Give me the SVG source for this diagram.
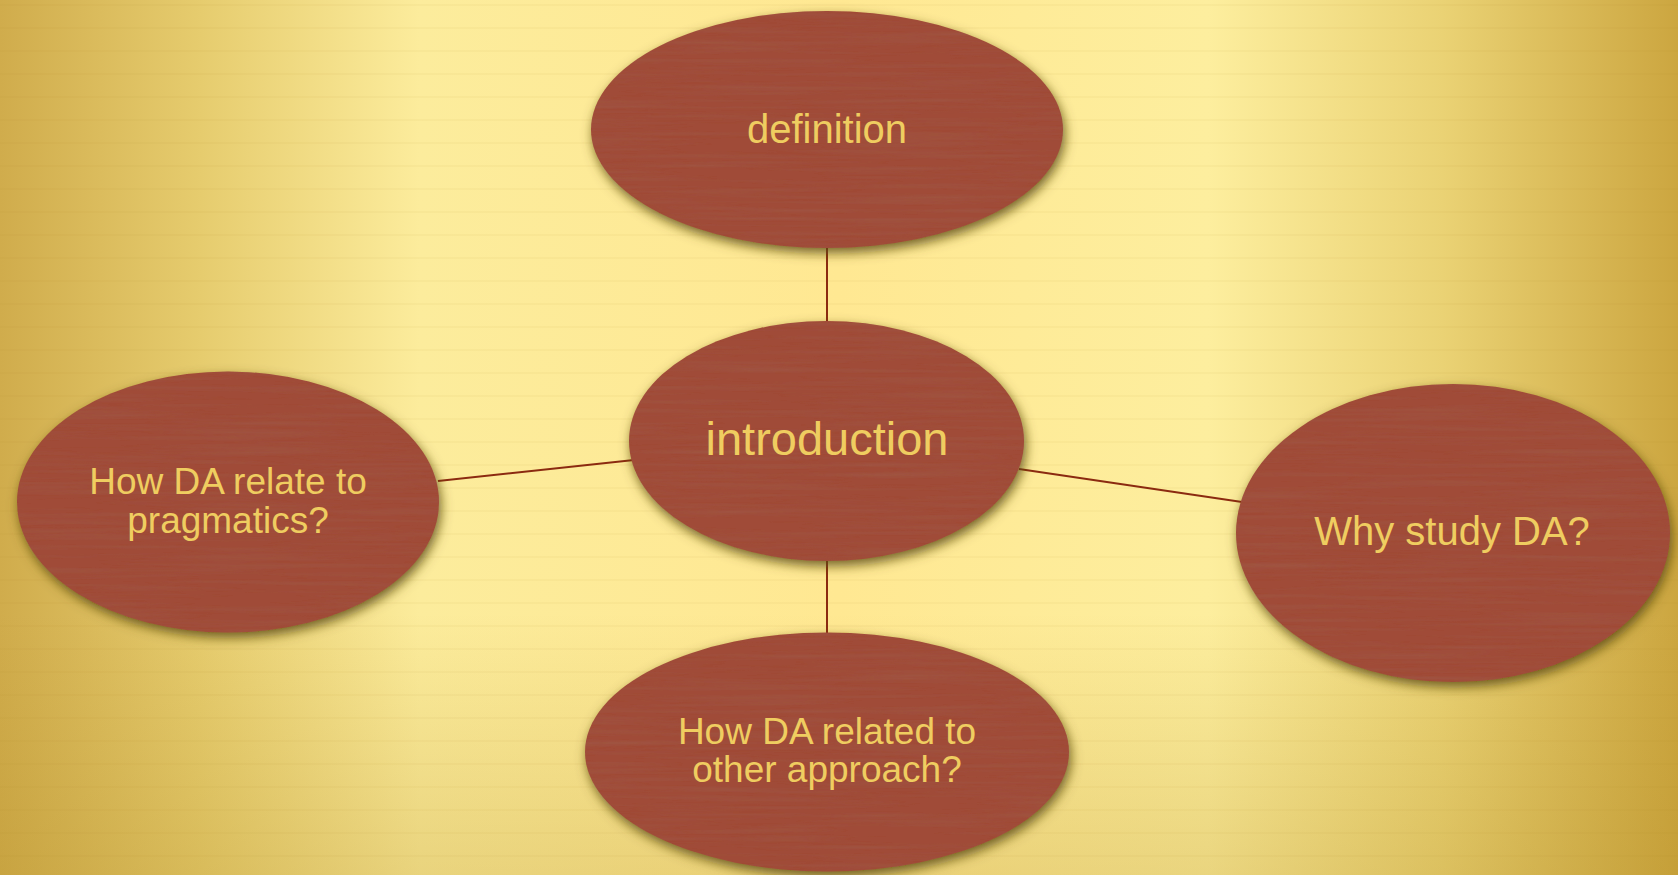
<svg xmlns="http://www.w3.org/2000/svg" width="1678" height="875" viewBox="0 0 1678 875">
<defs>
<linearGradient id="bgH" x1="0" y1="0" x2="1" y2="0">
<stop offset="0" stop-color="#D0AC4C"/>
<stop offset="0.12" stop-color="#E6CC6E"/>
<stop offset="0.25" stop-color="#FCEC9C"/>
<stop offset="0.5" stop-color="#FFE892"/>
<stop offset="0.72" stop-color="#FDEE9E"/>
<stop offset="0.86" stop-color="#EAD274"/>
<stop offset="1" stop-color="#CCA640"/>
</linearGradient>
<linearGradient id="bgV" x1="0" y1="0" x2="0" y2="1">
<stop offset="0" stop-color="#B08A20" stop-opacity="0"/>
<stop offset="0.7" stop-color="#B08A20" stop-opacity="0"/>
<stop offset="1" stop-color="#B08A20" stop-opacity="0.25"/>
</linearGradient>
<pattern id="lines" x="0" y="4" width="20" height="23" patternUnits="userSpaceOnUse">
<rect x="0" y="0" width="20" height="2" fill="#9A7A20" opacity="0.045"/>
</pattern>
<filter id="node" x="-10%" y="-10%" width="125%" height="130%">
<feGaussianBlur in="SourceAlpha" stdDeviation="6" result="b"/>
<feOffset in="b" dx="2" dy="5" result="o"/>
<feFlood flood-color="#5A4A10" flood-opacity="0.85"/>
<feComposite in2="o" operator="in" result="sh"/>
<feTurbulence type="fractalNoise" baseFrequency="0.006 0.22" numOctaves="2" seed="3" result="n"/>
<feColorMatrix in="n" type="matrix" values="0 0 0 0 0.35  0 0 0 0 0.12  0 0 0 0 0.08  0.7 0 0 0 -0.28" result="streak"/>
<feComposite in="streak" in2="SourceGraphic" operator="in" result="tex"/>
<feMerge><feMergeNode in="sh"/><feMergeNode in="SourceGraphic"/><feMergeNode in="tex"/></feMerge>
</filter>
<style>
.n{fill:#A04B38;filter:url(#node)}
.t{font-family:"Liberation Sans",Arial,sans-serif;fill:#EFCD60;text-anchor:middle}
.c{stroke:#8B2A10;stroke-width:2;fill:none}
</style>
</defs>
<rect width="1678" height="875" fill="url(#bgH)"/>
<rect width="1678" height="875" fill="url(#bgV)"/>
<rect width="1678" height="875" fill="url(#lines)"/>
<g id="connectors">
<line class="c" x1="827" y1="246" x2="827" y2="323"/>
<line class="c" x1="827" y1="559" x2="827" y2="635"/>
<line class="c" x1="438" y1="481" x2="634" y2="460"/>
<line class="c" x1="1019" y1="469" x2="1242" y2="502"/>
</g>
<g id="definition">
<ellipse class="n" cx="827" cy="129.5" rx="236" ry="118.5"/>
<text class="t" x="827" y="143" font-size="40">definition</text>
</g>
<g id="introduction">
<ellipse class="n" cx="826.5" cy="441" rx="197.5" ry="120"/>
<text class="t" x="827" y="455" font-size="47">introduction</text>
</g>
<g id="pragmatics">
<ellipse class="n" cx="228" cy="502" rx="211" ry="130.5"/>
<text class="t" x="228" y="494" font-size="37">How DA relate to</text>
<text class="t" x="228" y="533" font-size="37">pragmatics?</text>
</g>
<g id="why">
<ellipse class="n" cx="1453" cy="533" rx="217" ry="149"/>
<text class="t" x="1452" y="545" font-size="40">Why study DA?</text>
</g>
<g id="approach">
<ellipse class="n" cx="827" cy="752" rx="242" ry="119.5"/>
<text class="t" x="827" y="744" font-size="37">How DA related to</text>
<text class="t" x="827" y="782" font-size="37">other approach?</text>
</g>
</svg>
